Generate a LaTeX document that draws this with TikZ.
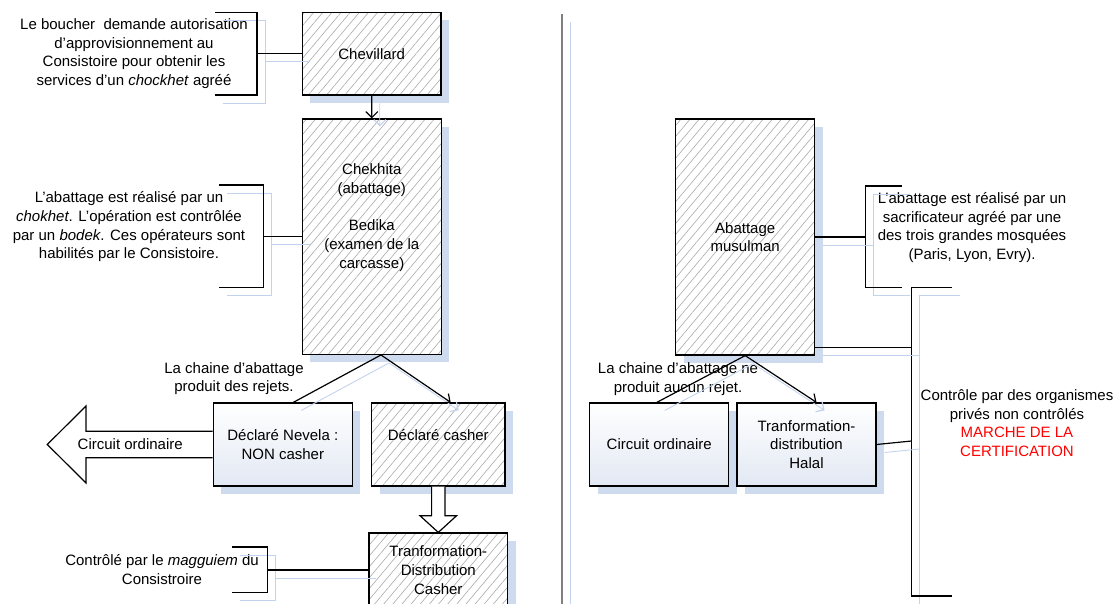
\documentclass[tikz,border=0pt]{standalone}
\usepackage{fontspec}
\setmainfont{Liberation Sans}
\usetikzlibrary{arrows.meta,patterns.meta,calc}
\definecolor{shadowblue}{RGB}{206,218,238}
\definecolor{shadowline}{RGB}{196,211,237}
\definecolor{hatchgray}{RGB}{170,170,170}
\definecolor{gradblue}{RGB}{226,232,243}
\definecolor{divgray}{RGB}{128,128,128}
\definecolor{certred}{RGB}{255,0,0}
\begin{document}
\begin{tikzpicture}[x=1pt,y=-1pt,
  every node/.style={font=\fontsize{15}{18.7}\selectfont, inner sep=0pt, align=center},
  boxshadow/.style={preaction={fill=shadowblue, transform canvas={xshift=8pt,yshift=-8pt}}},
  hatchbox/.style={draw, line width=1.2pt, boxshadow, preaction={fill=white},
    pattern={Lines[angle=50,distance=7pt,line width=0.6pt]}, pattern color=hatchgray},
  plainbox/.style={draw, line width=1.2pt, boxshadow, top color=white, bottom color=gradblue},
  lineshadow/.style={preaction={draw=shadowline, line width=0.9pt, transform canvas={xshift=8pt,yshift=-8pt}}},
  conn/.style={line width=1.2pt, lineshadow},
  arrowc/.style={conn, -{Straight Barb[length=6pt,width=12pt,line width=1.2pt]}},
  blockarrow/.style={draw, line width=1.2pt, fill=white, line join=miter},
]
\useasboundingbox (0,0) rectangle (1120,604);
\clip (0,0) rectangle (1120,604);

% divider
\coordinate (divtop) at (562,14);
\coordinate (divbot) at (562,612);
\draw[conn, draw=divgray, line width=1.4pt] (divtop) -- (divbot);

% ---------- boxes ----------
\node[hatchbox, minimum width=138.7pt, minimum height=82.7pt] (chev) at (371.7,53.7) {Chevillard};
\node[hatchbox, minimum width=139pt, minimum height=235.3pt] (chek) at (371.8,236.7) {};
\node (chekt) at (371.8,217.7) {Chekhita\\(abattage)\\[18.7pt]Bedika\\(examen de la\\carcasse)};
\node[plainbox, minimum width=139pt, minimum height=83pt] (nev) at (282.8,444.5) {Déclaré Nevela :\\NON casher};
\node[hatchbox, minimum width=133.3pt, minimum height=83pt] (dcash) at (438.3,444.5) {};
\node (dcasht) at (438.3,435.3) {Déclaré casher};
\node[hatchbox, minimum width=138.7pt, minimum height=74pt] (trans) at (438.3,570) {Tranformation-\\Distribution\\Casher};

\node[hatchbox, minimum width=139pt, minimum height=236pt] (abat) at (745.2,237) {Abattage\\musulman};
\node[plainbox, minimum width=139pt, minimum height=83pt] (circ) at (659.2,444.5) {Circuit ordinaire};
\node[plainbox, minimum width=139pt, minimum height=83pt] (halal) at (806.5,444.5) {Tranformation-\\distribution\\Halal};

% ---------- block arrows ----------
\draw[blockarrow] ($(nev.west)+(0,-13.3)$) -- (86,431.2) -- (86,406) -- (47.3,444.5) -- (86,483) -- (86,457.8) -- ($(nev.west)+(0,13.3)$);
\node (arrowt) at (130.2,444) {Circuit ordinaire};
\draw[blockarrow] ($(dcash.south)+(-6.7,0)$) -- (431.6,515.7) -- (420,515.7) -- (trans.north) -- (456.6,515.7) -- (445,515.7) -- ($(dcash.south)+(6.7,0)$);

% ---------- texts ----------
\node (t1) at (134,53.7) {Le boucher\ \ demande autorisation\\d’approvisionnement au\\Consistoire pour obtenir les\\services d’un \textit{chockhet} agréé};
\node (t2) at (129,226.8) {L’abattage est réalisé par un\\\textit{chokhet}. L’opération est contrôlée\\par un \textit{bodek}. Ces opérateurs sont\\habilités par le Consistoire.};
\node (t3) at (162,569.3) {Contrôlé par le \textit{magguiem} du\\Consistroire};
\node (t4) at (972,227.5) {L’abattage est réalisé par un\\sacrificateur agréé par une\\des trois grandes mosquées\\(Paris, Lyon, Evry).};
\node (t5) at (1017,423) {Contrôle par des organismes\\privés non contrôlés\\\textcolor{certred}{MARCHE DE LA}\\\textcolor{certred}{CERTIFICATION}};
\node (t6) at (234,378.5) {La chaine d’abattage\\produit des rejets.};
\node (t7) at (678,378.8) {La chaine d’abattage ne\\produit aucun rejet.};

% ---------- brackets ----------
\draw[conn] (215,12.3) -- (257,12.3) -- (257,95) -- (215,95);
\coordinate (b1) at (257,53.7);
\draw[conn] (b1) -- (chev.west);

\draw[conn] (219.3,185) -- (263.3,185) -- (263.3,287.3) -- (219.3,287.3);
\coordinate (b2) at (263.3,236.7);
\draw[conn] (b2) -- (chek.west);

\draw[conn] (232.3,547) -- (267.3,547) -- (267.3,592.3) -- (232.3,592.3);
\coordinate (b3) at (267.3,570);
\draw[conn] (b3) -- (trans.west);

\draw[conn] (901.7,186) -- (865.7,186) -- (865.7,287.3) -- (901.7,287.3);
\coordinate (b4) at (865.7,237);
\draw[conn] (abat.east) -- (b4);

\draw[conn] (951.7,287.7) -- (911.7,287.7) -- (911.7,596) -- (951.7,596);
\coordinate (b5a) at (911.7,347.7);
\coordinate (b5b) at (911.7,441);
\draw[conn] (abat.east |- b5a) -- (b5a);
\draw[conn] (halal.east) -- (b5b);

% ---------- flow connectors ----------
\draw[arrowc] (chev.south) -- (chek.north);
\coordinate (apexL) at ($(chek.south)+(9.2,0)$);
\draw[conn] (apexL) -- ($(nev.north)+(10.5,0)$);
\draw[arrowc] (apexL) -- ($(dcash.north)+(12.4,0)$);
\draw[conn] (abat.south) -- ($(circ.north)+(-2.4,0)$);
\draw[arrowc] (abat.south) -- ($(halal.north)+(10,0)$);
\end{tikzpicture}
\end{document}
